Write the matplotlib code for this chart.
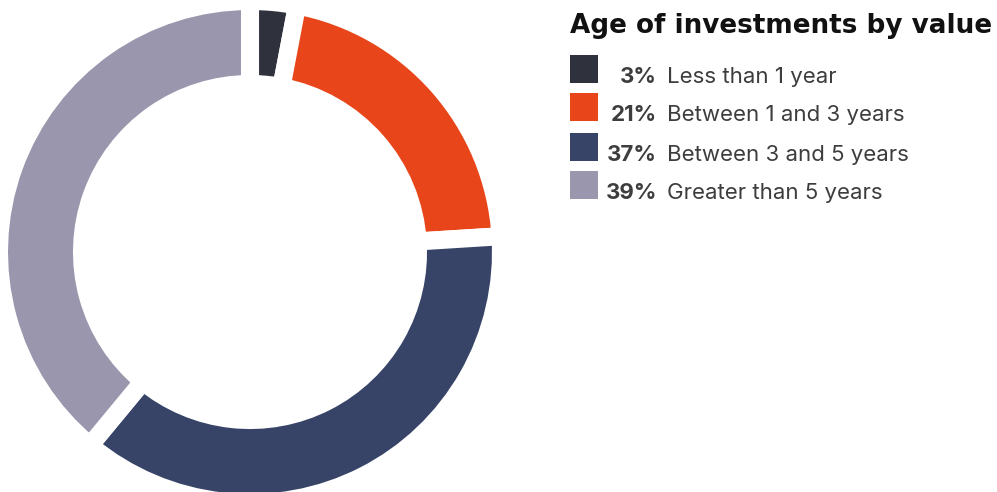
import matplotlib.pyplot as plt

# slice data, clockwise from the top
values = [3, 21, 37, 39]
pct_labels = ['3%', '21%', '37%', '39%']
names = ['Less than 1 year', 'Between 1 and 3 years',
         'Between 3 and 5 years', 'Greater than 5 years']
colors = ['#2f323d', '#e8461a', '#374468', '#9996ad']

W, H = 997, 492
fig = plt.figure(figsize=(W / 100, H / 100), dpi=100)
ax = fig.add_axes([0, 0, 1, 1])

# donut (1 data unit == 1 pixel)
cx, cy = 250, H - 252
outer, ring = 251, 83
ax.pie(values, colors=colors, startangle=90, counterclock=False,
       center=(cx, cy), radius=outer,
       wedgeprops=dict(width=ring, edgecolor='white', linewidth=13))
ax.set_xlim(0, W)
ax.set_ylim(0, H)
ax.set_aspect('equal')
ax.axis('off')

# legend title
ax.text(570, H - 33, 'Age of investments by value', fontsize=18.9,
        fontweight='bold', family='DejaVu Sans', color='#111111',
        va='baseline', ha='left')

# legend rows (square top in pixels)
row_top = [55, 93, 133, 171]
for y, c, p, n in zip(row_top, colors, pct_labels, names):
    ax.add_patch(plt.Rectangle((570, H - y - 28), 28, 28, color=c, lw=0))
    ax.text(657, H - y - 28, p, fontsize=16, fontweight='bold',
            family='Inter', color='#3d3d3d', va='baseline', ha='right')
    ax.text(667, H - y - 28, n, fontsize=16, family='Inter',
            color='#3d3d3d', va='baseline', ha='left')

fig.savefig('out.png', dpi=100)
